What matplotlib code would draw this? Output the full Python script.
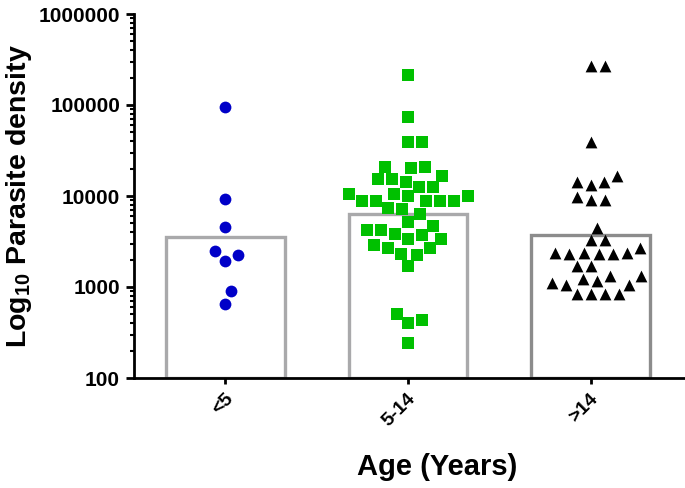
import numpy as np
import matplotlib
matplotlib.use("Agg")
import matplotlib.pyplot as plt
from matplotlib.ticker import FixedLocator, LogLocator, NullFormatter
from matplotlib.transforms import ScaledTranslation

plt.rcParams['font.family'] = ['Liberation Sans', 'DejaVu Sans']
plt.rcParams['font.weight'] = 'bold'
plt.rcParams['mathtext.fontset'] = 'custom'
plt.rcParams['mathtext.rm'] = 'Liberation Sans:bold'
plt.rcParams['mathtext.default'] = 'rm'

# data
groups = ['<5', '5-14', '>14']
bar_heights = [3420, 6270, 3650]   # geometric means

under5 = [96000, 9200, 4600, 2500, 2250, 1950, 900, 650]
age5_14 = [215000, 73000, 38900, 38900, 21000, 20200, 20900,
           14400, 15400, 15400, 16400, 12400, 12500,
           8900, 8900, 8800, 10400, 10100, 9950, 10650, 8800, 8800,
           7200, 6400, 7400, 5200, 4700, 4200, 4250,
           3700, 3400, 3400, 3800, 2700, 2700, 2900, 2300, 2250,
           1700, 500, 430, 400, 240]
over14 = [269000, 269000, 38900, 14400, 14400, 16500, 13100,
          9700, 9000, 9000, 4480, 3250, 3250, 2710,
          2340, 2290, 2290, 2290, 2340, 2340, 1700, 1700,
          1310, 1310, 1215, 1150, 1120, 1065, 1060,
          834, 834, 834, 834]

fig = plt.figure(figsize=(6.85, 4.88), dpi=100)
ax = fig.add_axes([134/685, 110/488, 550/685, 364/488])
ax.set_yscale('log')
ax.set_ylim(100, 1e6)
ax.set_xlim(-0.5, 2.51)

x = np.arange(len(groups))
ax.bar(x, bar_heights, width=0.65, bottom=100, color='white',
       edgecolor=['#a9a9ab', '#a9a9ab', '#8c8c8c'], linewidth=2.4, zorder=2)


def swarm_x(ax, xc, vals, d):
    # simple beeswarm in pixel space, d = min centre distance in px
    tr = ax.transData
    x0 = tr.transform((xc, 1))[0]
    ys = [tr.transform((xc, v))[1] for v in vals]
    steps = np.arange(1, 300) * 0.5
    cands = np.concatenate([[0], np.column_stack([steps, -steps]).ravel()])
    placed = []
    xs = np.zeros(len(vals))
    for i in np.argsort(ys):
        y = ys[i]
        for off in cands:
            if all((off - px) ** 2 + (y - py) ** 2 >= d * d for px, py in placed):
                break
        placed.append((off, y))
        xs[i] = tr.inverted().transform((x0 + off, y))[0]
    return xs


series = [(under5, 'o', '#0000c8'), (age5_14, 's', '#00c000'), (over14, '^', 'black')]
for i, (vals, mk, col) in enumerate(series):
    xs = swarm_x(ax, i, vals, 14)
    ax.scatter(xs, vals, marker=mk, s=72, color=col, linewidths=0, zorder=3, clip_on=False)

ax.yaxis.set_major_locator(FixedLocator([100, 1000, 10000, 100000, 1000000]))
ax.yaxis.set_minor_locator(LogLocator(base=10, subs=np.arange(2, 10)))
ax.yaxis.set_minor_formatter(NullFormatter())
ax.set_yticklabels(['100', '1000', '10000', '100000', '1000000'])

# rotated category labels, nudged like the original
ax.set_xticks(x)
ax.set_xticklabels([])
shift = ScaledTranslation(0.05, -0.18, fig.dpi_scale_trans)
for i, g in enumerate(groups):
    ax.text(i, 0, g, transform=ax.get_xaxis_transform() + shift, fontsize=14,
            rotation=45, ha='right', va='center', rotation_mode='anchor')

for s in ['top', 'right']:
    ax.spines[s].set_visible(False)
for s in ['left', 'bottom']:
    ax.spines[s].set_linewidth(2)
ax.tick_params(axis='y', which='major', length=6, width=2, labelsize=15, pad=4)
ax.tick_params(axis='y', which='minor', length=3, width=1.5)
ax.tick_params(axis='x', length=4, width=2)

ax.set_ylabel(r'Log$_{10}$ Parasite density', fontsize=20.5, fontweight='bold', va='center')
ax.yaxis.set_label_coords(-0.209, 0.5)
ax.set_xlabel('Age (Years)', fontsize=21, fontweight='bold', va='center')
ax.xaxis.set_label_coords(0.551, -0.245)

fig.savefig('out.png', dpi=100)
